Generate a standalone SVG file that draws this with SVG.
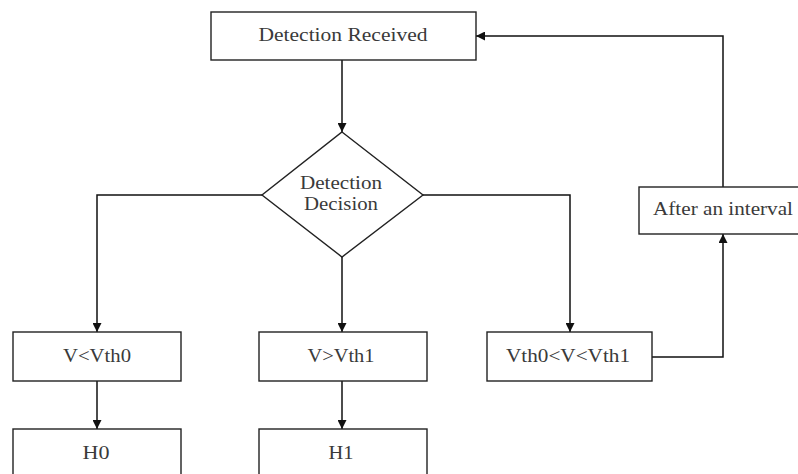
<svg xmlns="http://www.w3.org/2000/svg" width="798" height="474" viewBox="0 0 798 474">
<style>
.box{fill:#fff;stroke:#222;stroke-width:1.4}
.t{font-family:"Liberation Serif","Times New Roman",serif;font-size:18px;fill:#3a3a3a;text-anchor:middle}
.c{fill:none;stroke:#111;stroke-width:1.5;marker-end:url(#ah)}
</style>
<defs>
<marker id="ah" viewBox="0 0 10 10" refX="10" refY="5" markerWidth="9" markerHeight="9" markerUnits="userSpaceOnUse" orient="auto">
<path d="M0,0 L10,5 L0,10 z" fill="#111"/>
</marker>
</defs>
<rect width="798" height="474" fill="#fff"/>
<g id="connectors">
<path class="c" d="M342,60 V132"/>
<path class="c" d="M262,195 H97 V332"/>
<path class="c" d="M342,257 V332"/>
<path class="c" d="M423,195 H570 V332"/>
<path class="c" d="M97,381 V429"/>
<path class="c" d="M342,381 V429"/>
<path class="c" d="M652,357 H723 V234"/>
<path class="c" d="M723,187 V36 H476"/>
</g>
<g id="detection-received">
<rect class="box" x="211" y="12" width="265" height="48"/>
<text class="t" x="343" y="41" textLength="169" lengthAdjust="spacingAndGlyphs">Detection Received</text>
</g>
<g id="detection-decision">
<polygon class="box" points="342,132 423,195 342,257 262,195"/>
<text class="t" x="341" y="189" textLength="82" lengthAdjust="spacingAndGlyphs">Detection</text>
<text class="t" x="341" y="210" textLength="74" lengthAdjust="spacingAndGlyphs">Decision</text>
</g>
<g id="v-lt-vth0">
<rect class="box" x="13" y="332" width="168" height="49"/>
<text class="t" x="97" y="362" textLength="68" lengthAdjust="spacingAndGlyphs">V&lt;Vth0</text>
</g>
<g id="v-gt-vth1">
<rect class="box" x="259" y="332" width="168" height="49"/>
<text class="t" x="341" y="362" textLength="67" lengthAdjust="spacingAndGlyphs">V&gt;Vth1</text>
</g>
<g id="vth0-v-vth1">
<rect class="box" x="487" y="332" width="165" height="49"/>
<text class="t" x="568" y="362" textLength="124" lengthAdjust="spacingAndGlyphs">Vth0&lt;V&lt;Vth1</text>
</g>
<g id="after-interval">
<rect class="box" x="639" y="187" width="162" height="47"/>
<text class="t" x="723" y="215" textLength="140" lengthAdjust="spacingAndGlyphs">After an interval</text>
</g>
<g id="h0">
<rect class="box" x="13" y="429" width="168" height="50"/>
<text class="t" x="96" y="459" textLength="27" lengthAdjust="spacingAndGlyphs">H0</text>
</g>
<g id="h1">
<rect class="box" x="259" y="429" width="168" height="50"/>
<text class="t" x="341" y="459" textLength="25" lengthAdjust="spacingAndGlyphs">H1</text>
</g>
</svg>
